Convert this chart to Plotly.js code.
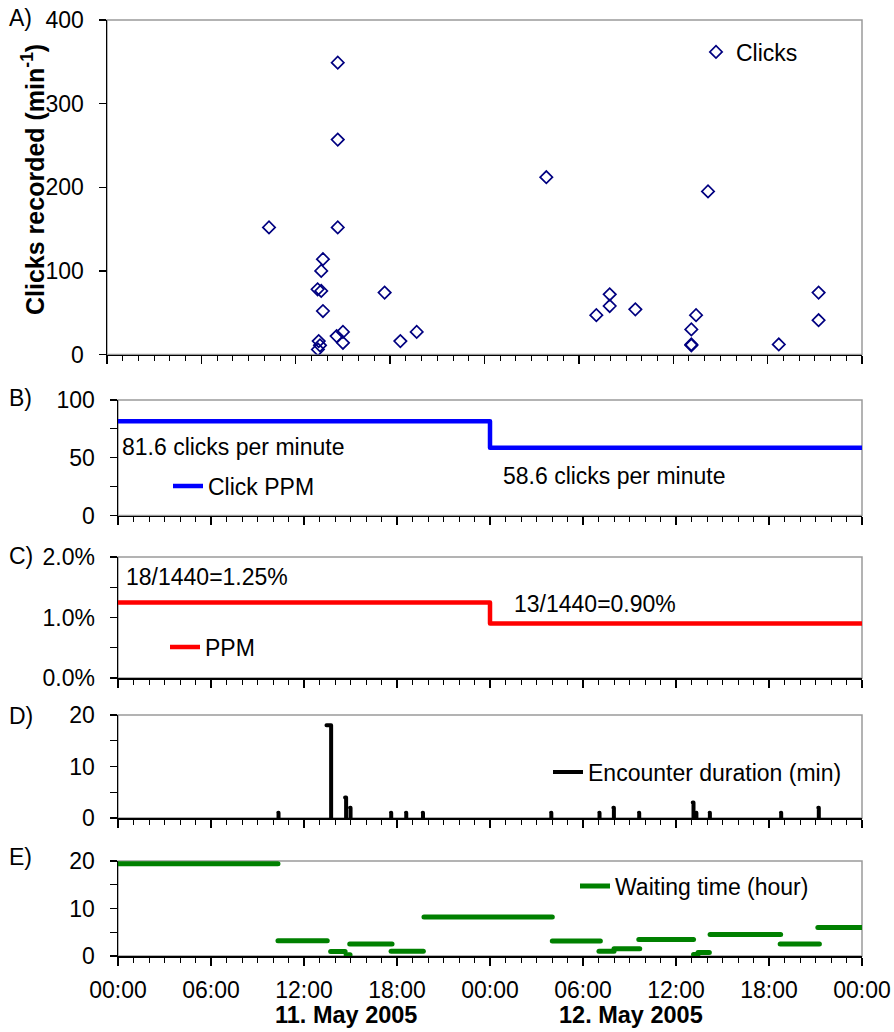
<!DOCTYPE html>
<html><head><meta charset="utf-8">
<script src="https://cdn.plot.ly/plotly-3.0.1.min.js"></script>
<style>
html,body{margin:0;padding:0;background:#fff;}
#chart{width:894px;height:1032px;}
.scatterlayer .js-line{stroke-linecap:round;stroke-linejoin:round;}
</style>
</head><body><div id="chart"></div>
<script>
// ---- Data (hours since 00:00, 11 May 2005) ----
// Panel A: clicks recorded per minute
const clickHours = [10.30, 13.39, 13.41, 13.46, 13.54, 13.62, 13.62, 13.73, 13.73, 14.60, 14.67, 14.67, 14.67, 15.00, 15.00, 17.65, 18.65, 19.69, 27.93, 31.11, 31.96, 31.96, 33.59, 37.15, 37.15, 37.15, 37.45, 38.21, 42.71, 45.24, 45.24];
const clickRates = [152, 78, 6, 16, 11, 100, 76, 114, 52, 22, 349, 257, 152, 27, 14, 74, 16, 27, 212, 47, 72, 58, 54, 30, 12, 11, 47, 195, 12, 74, 41];
// Panel B: click PPM per day
const dayHours = [0, 24, 48];
const clickPPM = [81.6, 58.6, 58.6];
// Panel C: positive-minute share per day
const ppmShare = [0.0125, 0.009, 0.009];
// Panel D: encounters (start hour, duration in minutes)
const encounterStart = [10.34, 13.45, 14.65, 14.97, 17.61, 18.58, 19.66, 27.94, 31.05, 31.96, 33.61, 37.08, 37.30, 38.17, 42.77, 45.18];
const encounterMinutes = [1, 18, 4, 2, 1, 1, 1, 1, 1, 2, 1, 3, 1, 1, 1, 2];
// Panel E: waiting time between encounters
const waitStart = [0, 10.32, 13.72, 14.72, 14.95, 17.62, 19.74, 28.02, 31.03, 32.00, 33.60, 37.13, 37.42, 38.20, 42.72, 45.15];
const waitEnd   = [10.32, 13.50, 14.65, 14.97, 17.68, 19.70, 28.02, 31.12, 32.00, 33.66, 37.13, 37.42, 38.15, 42.75, 45.25, 48];
const waitHours = [19.4, 3.2, 0.95, 0.25, 2.55, 1.0, 8.2, 3.15, 1.0, 1.55, 3.45, 0.3, 0.75, 4.5, 2.55, 6.0];
// Ticks and labels
const hourTicks = [0, 6, 12, 18, 24, 30, 36, 42, 48];
const hourTickLabels = ['00:00', '06:00', '12:00', '18:00', '00:00', '06:00', '12:00', '18:00', '00:00'];
const dayLabels = ['11. May 2005', '12. May 2005'];
const dayLabelHours = [14.7, 33.1];
const panelLetters = ['A)', 'B)', 'C)', 'D)', 'E)'];
const ppmTexts = ['81.6 clicks per minute', '58.6 clicks per minute'];
const shareTexts = ['18/1440=1.25%', '13/1440=0.90%'];
const seriesNames = ['Clicks', 'Click PPM', 'PPM', 'Encounter duration (min)', 'Waiting time (hour)'];
const yTitleA = 'Clicks recorded (min<sup>-1</sup>)';

// ---- Layout helpers ----
const W = 894, H = 1032;
const FONT = 'Liberation Sans, Arial, sans-serif';
const FS = 23;
const fx = p => p / W;
const fy = p => 1 - p / H;
const panels = [
  {x: [107, 862], y: [20, 354.5]},
  {x: [118, 862], y: [400, 515.5]},
  {x: [118, 862], y: [557, 678]},
  {x: [118, 862], y: [715, 818]},
  {x: [118, 862], y: [861, 956]}
];

function xAxis(i, showLabels) {
  const p = panels[i];
  return {
    domain: [fx(p.x[0]), fx(p.x[1])], anchor: i === 0 ? 'y' : 'y' + (i + 1),
    range: [0, 48], showline: true, linecolor: '#000', linewidth: 1.5,
    showgrid: false, zeroline: false, ticks: 'outside', ticklen: 8, tickwidth: 1.3, tickcolor: '#000',
    tickmode: 'array', tickvals: hourTicks, ticktext: hourTickLabels,
    showticklabels: showLabels, tickfont: {family: FONT, size: FS, color: '#000'},
    ticklabelstandoff: 5,
    minor: {tickmode: 'linear', tick0: 0, dtick: 1, ticks: 'outside', ticklen: 5, tickwidth: 1, tickcolor: '#000'},
    fixedrange: true
  };
}
function yAxis(i, range, dtick, minorDtick, extra) {
  const p = panels[i];
  return Object.assign({
    domain: [fy(p.y[1]), fy(p.y[0])], anchor: i === 0 ? 'x' : 'x' + (i + 1),
    range: range, dtick: dtick, tick0: 0, showline: true, linecolor: '#000', linewidth: 1.5,
    showgrid: false, zeroline: false, ticks: 'outside', ticklen: 7, tickwidth: 1.3, tickcolor: '#000',
    tickfont: {family: FONT, size: FS, color: '#000'}, ticklabelstandoff: 10,
    minor: {tickmode: 'linear', tick0: 0, dtick: minorDtick, ticks: 'outside', ticklen: 7, tickwidth: 1, tickcolor: '#000'},
    fixedrange: true
  }, extra || {});
}

// ---- Traces ----
const encX = [], encY = [];
encounterStart.forEach((s, i) => {
  const e = s + encounterMinutes[i] / 60;
  encX.push(s, e, e, null);
  encY.push(encounterMinutes[i], encounterMinutes[i], 0, null);
});
const waitX = [], waitY = [];
waitStart.forEach((s, i) => {
  waitX.push(s, waitEnd[i], null);
  waitY.push(waitHours[i], waitHours[i], null);
});

const traces = [
  {type: 'scatter', mode: 'markers', x: clickHours, y: clickRates, name: seriesNames[0],
   xaxis: 'x', yaxis: 'y', legend: 'legend',
   marker: {symbol: 'diamond-open', size: 9.5, color: '#000080', line: {width: 1.7, color: '#000080'}}},
  {type: 'scatter', mode: 'lines', x: dayHours, y: clickPPM, name: seriesNames[1],
   xaxis: 'x2', yaxis: 'y2', legend: 'legend2', line: {shape: 'hv', color: '#0000FF', width: 4.5}},
  {type: 'scatter', mode: 'lines', x: dayHours, y: ppmShare, name: seriesNames[2],
   xaxis: 'x3', yaxis: 'y3', legend: 'legend3', line: {shape: 'hv', color: '#FF0000', width: 4.5}},
  {type: 'scatter', mode: 'lines', x: encX, y: encY, name: seriesNames[3], connectgaps: false,
   xaxis: 'x4', yaxis: 'y4', legend: 'legend4', line: {color: '#000', width: 4}},
  {type: 'scatter', mode: 'lines', x: waitX, y: waitY, name: seriesNames[4], connectgaps: false,
   xaxis: 'x5', yaxis: 'y5', legend: 'legend5', line: {color: '#008000', width: 5}}
];

function legendAt(left, centerY) {
  return {x: fx(left), y: fy(centerY), xanchor: 'left', yanchor: 'middle', bgcolor: 'rgba(0,0,0,0)',
          borderwidth: 0, itemwidth: 30, font: {family: FONT, size: FS, color: '#000'}};
}

const annotations = [];
const letterY = [18, 398, 556, 716, 857];
panelLetters.forEach((t, i) => annotations.push({text: t, xref: 'paper', yref: 'paper', x: fx(7), y: fy(letterY[i]),
  xanchor: 'left', yanchor: 'middle', showarrow: false, font: {family: FONT, size: FS, color: '#000'}}));
annotations.push({text: '<b>' + yTitleA + '</b>', xref: 'paper', yref: 'paper', x: fx(33), y: fy(180), textangle: -90,
  xanchor: 'center', yanchor: 'middle', showarrow: false, font: {family: FONT, size: 25, color: '#000'}});
annotations.push({text: ppmTexts[0], xref: 'x2', yref: 'y2', x: 0.1, y: 59.5, xanchor: 'left', yanchor: 'middle', showarrow: false, font: {family: FONT, size: FS, color: '#000'}});
annotations.push({text: ppmTexts[1], xref: 'x2', yref: 'y2', x: 24.7, y: 34.5, xanchor: 'left', yanchor: 'middle', showarrow: false, font: {family: FONT, size: FS, color: '#000'}});
annotations.push({text: shareTexts[0], xref: 'x3', yref: 'y3', x: 0.4, y: 0.0167, xanchor: 'left', yanchor: 'middle', showarrow: false, font: {family: FONT, size: FS, color: '#000'}});
annotations.push({text: shareTexts[1], xref: 'x3', yref: 'y3', x: 25.4, y: 0.0123, xanchor: 'left', yanchor: 'middle', showarrow: false, font: {family: FONT, size: FS, color: '#000'}});
dayLabels.forEach((t, i) => annotations.push({text: '<b>' + t + '</b>', xref: 'x5', yref: 'paper', x: dayLabelHours[i], y: fy(1015),
  xanchor: 'center', yanchor: 'middle', showarrow: false, font: {family: FONT, size: 23.5, color: '#000'}}));

const shapes = ['x', 'x2', 'x3', 'x4', 'x5'].map((xa, i) => ({
  type: 'rect', layer: 'below', xref: xa + ' domain', yref: (i === 0 ? 'y' : 'y' + (i + 1)) + ' domain',
  x0: 0, x1: 1, y0: 0, y1: 1, line: {color: '#9a9a9a', width: 1.5}, fillcolor: 'rgba(0,0,0,0)'
}));

const layout = {
  width: W, height: H, margin: {l: 0, r: 0, t: 0, b: 0},
  paper_bgcolor: '#fff', plot_bgcolor: 'rgba(0,0,0,0)', showlegend: true,
  font: {family: FONT, size: FS, color: '#000'},
  xaxis: xAxis(0, false), xaxis2: xAxis(1, false), xaxis3: xAxis(2, false), xaxis4: xAxis(3, false), xaxis5: xAxis(4, true),
  yaxis: yAxis(0, [0, 400], 100, 100),
  yaxis2: yAxis(1, [0, 100], 50, 25),
  yaxis3: yAxis(2, [0, 0.02], 0.01, 0.005, {tickformat: '.1%'}),
  yaxis4: yAxis(3, [0, 20], 10, 5),
  yaxis5: yAxis(4, [0, 20], 10, 5),
  legend: legendAt(696, 52),
  legend2: legendAt(168, 486),
  legend3: legendAt(165, 647),
  legend4: legendAt(548, 772),
  legend5: legendAt(575, 886),
  annotations: annotations,
  shapes: shapes
};

Plotly.newPlot('chart', traces, layout, {staticPlot: true, displayModeBar: false});
</script>
</body></html>
